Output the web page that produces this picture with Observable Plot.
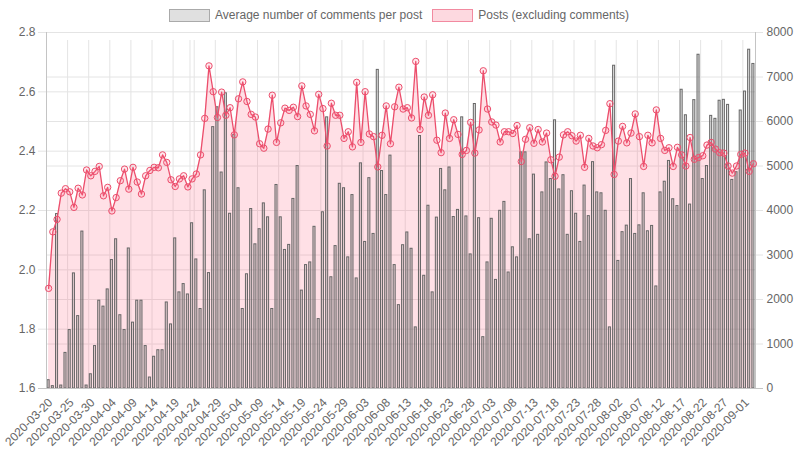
<!DOCTYPE html>
<html><head><meta charset="utf-8">
<script src="https://cdn.jsdelivr.net/npm/d3@7"></script>
<script src="https://cdn.jsdelivr.net/npm/@observablehq/plot@0.6"></script>
<style>
body{margin:0;background:#fff;font-family:"Liberation Sans",Arial,sans-serif;}
#legend{height:26px;display:flex;justify-content:center;align-items:flex-start;gap:10px;font-size:12px;color:#666;box-sizing:border-box;}
.item{display:flex;align-items:center;margin-top:9px;height:13px;line-height:13px;}
.sw{width:41px;height:13px;box-sizing:border-box;margin-right:5px;border-width:1.5px;border-style:solid;}
#chart svg{display:block;}
</style></head><body>
<div id="legend"></div>
<div id="chart"></div>
<script>
const seriesNames = ["Average number of comments per post", "Posts (excluding comments)"];
const startDate = "2020-03-20";
const endDate = "2020-09-03";
const avgComments = [
1.628,1.608,2.188,1.61,1.72,1.797,1.988,1.844,2.129,1.61,
1.648,1.743,1.896,1.876,1.934,2.033,2.103,1.847,1.797,2.072,
1.822,1.896,1.896,1.743,1.637,1.707,1.729,1.729,1.890,1.816,
2.106,1.924,1.952,1.917,2.157,2.035,1.868,2.268,1.989,2.481,
2.548,2.328,2.595,2.189,2.455,2.275,1.868,1.985,2.205,2.086,
2.137,2.224,2.177,1.868,2.286,2.177,2.067,2.084,2.239,2.350,
1.930,2.016,2.025,2.145,1.834,2.194,2.514,1.975,2.080,2.290,
2.275,2.042,2.252,1.971,2.359,2.094,2.309,2.121,2.674,2.333,
2.252,2.385,2.016,1.881,2.083,2.126,2.071,1.806,2.451,1.980,
2.216,1.924,2.176,2.340,2.268,2.345,2.178,2.202,2.514,2.180,
2.052,2.559,2.174,1.773,2.025,2.172,1.966,2.199,2.229,1.991,
2.076,2.042,2.396,2.396,2.103,2.321,2.118,2.261,2.362,2.306,
2.504,2.271,2.319,2.118,2.265,2.189,2.094,2.284,2.181,2.363,
2.261,2.258,2.199,1.806,2.688,2.030,2.127,2.149,2.306,2.121,
2.150,2.258,2.130,2.148,1.944,2.261,2.297,2.367,2.238,2.215,
2.607,2.521,2.220,2.572,2.725,2.306,2.350,2.519,2.509,2.570,
2.573,2.556,2.303,2.329,2.537,2.601,2.742,2.694];
const posts = [
2250,3520,3800,4390,4490,4420,4070,4500,4350,4910,
4780,4880,4990,4330,4520,3990,4290,4670,4930,4480,
4970,4640,4370,4780,4900,4970,4960,5250,5080,4690,
4540,4710,4780,4530,4710,4820,5250,6070,7250,6670,
6090,6660,6140,6310,5700,6510,6890,6450,6160,6100,
5500,5400,5830,6590,5530,5970,6300,6250,6320,6110,
6800,6350,6160,5790,6610,6290,5450,6410,6140,6140,
5620,5770,5430,6880,5530,6670,5720,5660,4980,5690,
6350,5500,6330,6770,6280,6310,6080,7350,5820,6550,
6140,6600,5580,5300,6190,5620,6040,5710,5260,5350,
5980,5290,5810,7140,6280,5990,5920,5540,5770,5770,
5730,5910,5100,5600,5860,5510,5820,5540,5740,5140,
4770,5200,5700,5770,5680,5560,5690,4970,5620,5450,
5410,5480,5800,6400,4810,5560,5890,5520,5740,6170,
5660,4990,5690,5520,6260,5620,5350,5410,4990,5420,
5250,5000,5640,5150,5190,5230,5470,5530,5380,5300,
5290,5000,4840,5000,5260,5290,4880,5050];
const tickLabels = ["2020-03-20","2020-03-25","2020-03-30","2020-04-04","2020-04-09","2020-04-14","2020-04-19","2020-04-24","2020-04-29","2020-05-04","2020-05-09","2020-05-14","2020-05-19","2020-05-24","2020-05-29","2020-06-03","2020-06-08","2020-06-13","2020-06-18","2020-06-23","2020-06-28","2020-07-03","2020-07-08","2020-07-13","2020-07-18","2020-07-23","2020-07-28","2020-08-02","2020-08-07","2020-08-12","2020-08-17","2020-08-22","2020-08-27","2020-09-01"];
const extraGridDates = ["2020-04-23"];
const leftTicks = [1.6,1.8,2.0,2.2,2.4,2.6,2.8];
const rightTicks = [0,1000,2000,3000,4000,5000,6000,7000,8000];

const fmt = d3.utcFormat("%Y-%m-%d");
const dates = d3.utcDay.range(new Date(startDate+"T00:00Z"), d3.utcDay.offset(new Date(endDate+"T00:00Z"),1)).map(fmt);
const data = dates.map((d,i)=>({date:d, avg:avgComments[i], posts:posts[i]}));

const yMin = 1.6, yMax = 2.8, pMax = 8000;
const toLeft = p => yMin + p/pMax*(yMax-yMin);
const toRight = v => Math.round((v-yMin)/(yMax-yMin)*pMax);

const W=798, H=424, mL=46, mR=43, mT=6, mB=62;
const step = (W-mL-mR)/dates.length;
const pink = "rgb(236,78,108)";
const grid = "#e4e4e4";
const axisCol = "#c4c4c4";

const legend = d3.select("#legend");
[{fill:"#e0e0e0", stroke:"#aaaaaa"},{fill:"#fdd9e0", stroke:"#f28aa0"}].forEach((s,i)=>{
  const it = legend.append("div").attr("class","item");
  it.append("div").attr("class","sw").style("background",s.fill).style("border-color",s.stroke);
  it.append("span").text(seriesNames[i]);
});

const chart = Plot.plot({
  width: W, height: H, marginLeft: mL, marginRight: mR, marginTop: mT, marginBottom: mB,
  style: {fontFamily:"'Liberation Sans', Arial, sans-serif", fontSize:"12px", color:"#666", background:"#fff"},
  x: {type:"band", domain: dates, paddingInner:0.28, paddingOuter:0.14, axis:null},
  y: {domain:[yMin,yMax], axis:null},
  marks: [
    Plot.ruleY(leftTicks, {stroke:grid, insetLeft:-8}),
    Plot.ruleY(rightTicks.map(toLeft), {stroke:grid, insetRight:-8}),
    Plot.ruleX(tickLabels.concat(extraGridDates), {y1:yMin, y2:yMax, stroke:grid, dx:-step/2, insetBottom:-8}),
    Plot.areaY(data, {x:"date", y1:yMin, y2:d=>toLeft(d.posts), fill:"rgba(255,99,132,0.2)"}),
    Plot.barY(data, {x:"date", y1:yMin, y2:"avg", fill:"rgba(120,120,120,0.22)", stroke:"#666", strokeWidth:1, insetLeft:0.5, insetRight:0.5}),
    Plot.ruleY([yMin], {stroke:axisCol, insetLeft:-8, insetRight:-8}),
    Plot.ruleX([dates[0]], {y1:yMin, y2:yMax, stroke:axisCol, dx:-step/2}),
    Plot.ruleX([dates[dates.length-1]], {y1:yMin, y2:yMax, stroke:axisCol, dx:step/2}),
    Plot.lineY(data, {x:"date", y:d=>toLeft(d.posts), stroke:pink, strokeWidth:1.3}),
    Plot.dot(data, {x:"date", y:d=>toLeft(d.posts), r:3.2, stroke:pink, strokeWidth:1, fill:"rgba(255,99,132,0.15)"}),
    Plot.axisY(leftTicks, {anchor:"left", tickSize:0, tickPadding:11, tickFormat:d3.format(".1f"), label:null}),
    Plot.axisY(rightTicks.map(toLeft), {anchor:"right", tickSize:0, tickPadding:11, tickFormat:v=>String(toRight(v)), label:null}),
    Plot.axisX(tickLabels, {anchor:"bottom", tickSize:0, tickPadding:12, tickRotate:-45, dx:2, label:null})
  ]
});
document.getElementById("chart").appendChild(chart);
</script>
</body></html>
